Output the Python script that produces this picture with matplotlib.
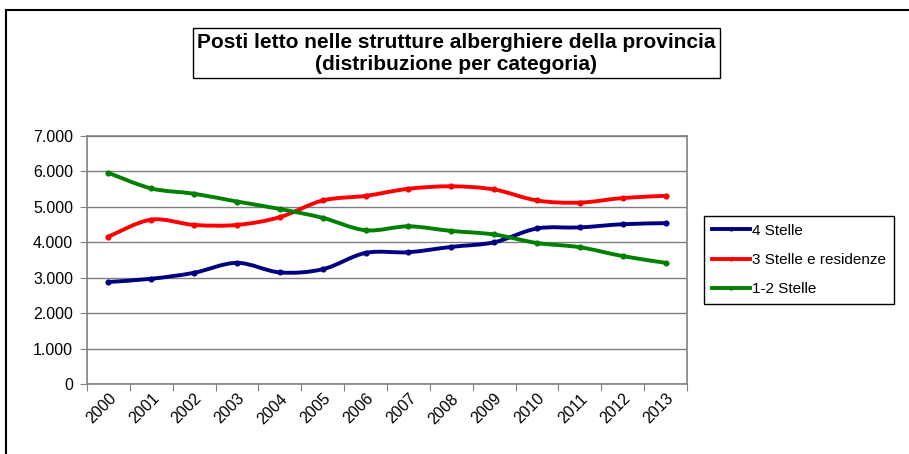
import numpy as np
import matplotlib.pyplot as plt
from matplotlib.path import Path
from matplotlib.patches import PathPatch, Rectangle
from matplotlib.lines import Line2D

plt.rcParams['font.family'] = ['Liberation Sans', 'DejaVu Sans']

anni = [str(a) for a in range(2000, 2014)]
stelle_4 = [2880, 2970, 3140, 3420, 3150, 3240, 3700, 3720, 3870, 4000, 4390, 4420, 4510, 4540]
stelle_3 = [4160, 4640, 4490, 4490, 4710, 5180, 5310, 5510, 5580, 5490, 5180, 5120, 5250, 5310]
stelle_12 = [5960, 5520, 5370, 5150, 4940, 4690, 4340, 4450, 4320, 4220, 3980, 3860, 3610, 3420]
etichette = ["4 Stelle", "3 Stelle e residenze", "1-2 Stelle"]
colori = ["#000080", "#ff0000", "#008000"]


def smooth_path(x, y):
    # excel-like smoothed line: catmull-rom segments as cubic bezier
    p = np.column_stack([x, y]).astype(float)
    ext = np.vstack([p[0], p, p[-1]])
    verts = [p[0]]
    codes = [Path.MOVETO]
    for i in range(len(p) - 1):
        p0, p1, p2, p3 = ext[i], ext[i + 1], ext[i + 2], ext[i + 3]
        verts += [p1 + (p2 - p0) / 6, p2 - (p3 - p1) / 6, p2]
        codes += [Path.CURVE4] * 3
    return Path(verts, codes)


fig = plt.figure(figsize=(9.09, 4.54), dpi=100)
ax = fig.add_axes([87 / 909, 1 - 384 / 454, 600 / 909, 248 / 454])

x = np.arange(len(anni))
for serie, col in zip([stelle_4, stelle_3, stelle_12], colori):
    ax.add_patch(PathPatch(smooth_path(x, serie), facecolor='none', edgecolor=col,
                           lw=2.8, capstyle='round', zorder=3))
    ax.plot(x, serie, ls='none', marker='o', ms=3.4, color=col, zorder=4)

ax.set_xlim(-0.5, len(anni) - 0.5)
ax.set_ylim(0, 7000)
ax.set_yticks(range(0, 7001, 1000))
ax.set_yticklabels([f"{v:,}".replace(",", ".") for v in range(0, 7001, 1000)], fontsize=11.5)
ax.set_xticks(np.arange(-0.5, len(anni)), labels=[])
ax.set_xticks(x, labels=anni, minor=True)
ax.tick_params(axis='x', which='major', length=5, color='#808080', direction='out')
ax.tick_params(axis='x', which='minor', length=0, pad=5)
ax.tick_params(axis='y', length=5, color='#808080', direction='out', pad=5)
for lab in ax.get_xticklabels(minor=True):
    lab.set_rotation(45)
    lab.set_ha('right')
    lab.set_va('top')
    lab.set_rotation_mode('anchor')
    lab.set_fontsize(11.5)
ax.grid(axis='y', color='#808080', lw=1)
ax.set_axisbelow(True)
for s in ax.spines.values():
    s.set_color('#808080')
    s.set_linewidth(1.2)

# legend
handles = [Line2D([], [], color=c, lw=2.8, marker='o', ms=2) for c in colori]
leg = fig.legend(handles, etichette, loc='upper left', bbox_to_anchor=(704 / 909, 1 - 216 / 454),
                 borderaxespad=0, fontsize=11, frameon=True, fancybox=False, edgecolor='black',
                 framealpha=1, handlelength=2.5, handletextpad=0.15, labelspacing=1.0,
                 borderpad=0.5)
leg.get_frame().set_linewidth(1)

# title box
fig.add_artist(Rectangle((193 / 909, 1 - 78 / 454), 527 / 909, 50 / 454, transform=fig.transFigure,
                         fill=False, edgecolor='black', lw=1))
fig.text(456 / 909, 1 - 53 / 454,
         "Posti letto nelle strutture alberghiere della provincia\n(distribuzione per categoria)",
         ha='center', va='center', fontsize=15, fontweight='bold', linespacing=1.2)

# outer frame
fig.add_artist(Line2D([6 / 909, 1], [1 - 10 / 454, 1 - 10 / 454], color='black', lw=1.5,
                      transform=fig.transFigure))
fig.add_artist(Line2D([6 / 909, 6 / 909], [0, 1 - 10 / 454], color='black', lw=1.5,
                      transform=fig.transFigure))

fig.savefig("out.png", dpi=100)
